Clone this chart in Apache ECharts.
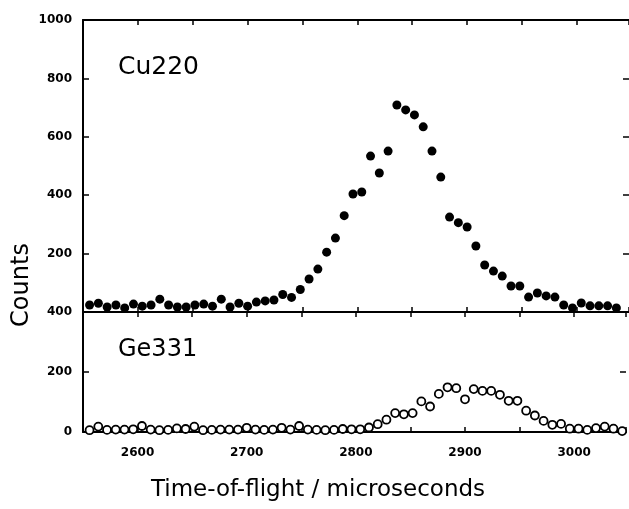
<!DOCTYPE html>
<html>
<head>
<meta charset="utf-8">
<script src="https://cdn.jsdelivr.net/npm/echarts@6/dist/echarts.min.js"></script>
<style>
  html, body { margin: 0; padding: 0; background: #fff; overflow: hidden; }
  #chart { width: 629px; height: 509px; }
</style>
</head>
<body>
<div id="chart"></div>
<script>
// Time-of-flight channel positions (microseconds)
var times = [2556, 2564, 2572, 2580, 2588, 2596, 2604, 2612, 2620, 2628,
             2636, 2644, 2652, 2660, 2668, 2676, 2684, 2692, 2700, 2708,
             2716, 2724, 2732, 2740, 2748, 2756, 2764, 2772, 2780, 2788,
             2796, 2804, 2812, 2820, 2828, 2836, 2844, 2852, 2860, 2868,
             2876, 2884, 2892, 2900, 2908, 2916, 2924, 2932, 2940, 2948,
             2956, 2964, 2972, 2980, 2988, 2996, 3004, 3012, 3020, 3028,
             3036, 3044];
// Cu220 counts (filled circles, upper panel)
var cu220 = [24, 30, 17, 24, 14, 27, 20, 24, 44, 24,
             17, 17, 24, 27, 20, 44, 17, 30, 20, 34,
             38, 41, 60, 50, 77, 113, 147, 205, 253, 330,
             404, 411, 534, 476, 551, 709, 692, 675, 634, 551,
             462, 325, 306, 291, 226, 161, 140, 123, 89, 89,
             51, 65, 55, 51, 24, 14, 31, 21, 21, 21,
             14];
// Ge331 counts (open circles, lower panel)
var ge331 = [6, 18, 7, 8, 8, 9, 20, 8, 6, 7,
             12, 10, 18, 6, 7, 8, 8, 8, 14, 8,
             7, 8, 14, 8, 20, 8, 7, 6, 7, 10,
             9, 9, 15, 26, 41, 63, 59, 63, 102, 85,
             127, 149, 146, 109, 143, 137, 137, 124, 104, 104,
             71, 55, 37, 24, 27, 11, 11, 7, 13, 18,
             11, 3];
var xTickLabels = [2600, 2700, 2800, 2900, 3000];
var topYLabels = [200, 400, 600, 800, 1000];
var bottomYLabels = [0, 200, 400];

function pairs(xs, ys) {
  var out = [];
  for (var i = 0; i < ys.length; i++) out.push([xs[i], ys[i]]);
  return out;
}

var FONT = '"DejaVu Sans", sans-serif';
var lineStyle = { color: '#000', width: 2 };
var labelStyle = { color: '#000', fontFamily: FONT, fontWeight: 'bold', fontSize: 12 };

function xAx(grid, pos, showLabels) {
  return {
    type: 'value', gridIndex: grid, position: pos,
    min: 2550, max: 3047.5, interval: 50,
    axisLine: { show: true, onZero: false, lineStyle: lineStyle },
    axisTick: { show: true, inside: true, length: 5, lineStyle: { color: '#000', width: 1.5 } },
    axisLabel: showLabels ? Object.assign({
      margin: 15,
      formatter: function (v) { return xTickLabels.indexOf(v) >= 0 ? String(v) : ''; }
    }, labelStyle) : { show: false },
    splitLine: { show: false }
  };
}
function yAx(grid, pos, max, labels) {
  return {
    type: 'value', gridIndex: grid, position: pos,
    min: 0, max: max, interval: 200,
    axisLine: { show: pos === 'left', onZero: false, lineStyle: lineStyle },
    axisTick: { show: true, inside: true, length: 6, lineStyle: { color: '#000', width: 1.5 } },
    axisLabel: labels ? Object.assign({
      margin: 11,
      formatter: function (v) { return labels.indexOf(v) >= 0 ? String(v) : ''; }
    }, labelStyle) : { show: false },
    splitLine: { show: false }
  };
}

var chart = echarts.init(document.getElementById('chart'), null, { renderer: 'canvas', width: 629, height: 509 });
chart.setOption({
  backgroundColor: '#fff',
  animation: false,
  grid: [
    { left: 83, top: 20, width: 546, height: 292 },
    { left: 83, top: 312, width: 546, height: 120 }
  ],
  xAxis: [
    xAx(0, 'bottom', false),
    xAx(0, 'top', false),
    xAx(1, 'top', false),
    xAx(1, 'bottom', true)
  ],
  yAxis: [
    yAx(0, 'left', 1000, topYLabels),
    yAx(0, 'right', 1000, null),
    yAx(1, 'left', 400, bottomYLabels),
    yAx(1, 'right', 400, null)
  ],
  series: [
    {
      name: 'Cu220', type: 'scatter', xAxisIndex: 0, yAxisIndex: 0,
      data: pairs(times, cu220),
      symbol: 'circle', symbolSize: 9,
      itemStyle: { color: '#000', opacity: 1 }
    },
    {
      name: 'Ge331', type: 'scatter', xAxisIndex: 3, yAxisIndex: 2,
      data: pairs(times, ge331),
      symbol: 'circle', symbolSize: 8,
      itemStyle: { color: '#fff', borderColor: '#000', borderWidth: 1.8, opacity: 1 }
    }
  ],
  graphic: [
    { type: 'text', x: 118, y: 80, style: { text: 'Cu220', font: 'normal 25px ' + FONT, fill: '#000', textAlign: 'left', textVerticalAlign: 'bottom' } },
    { type: 'text', x: 118, y: 362, style: { text: 'Ge331', font: 'normal 24px ' + FONT, fill: '#000', textAlign: 'left', textVerticalAlign: 'bottom' } },
    { type: 'text', x: 22, y: 285, rotation: Math.PI / 2, style: { text: 'Counts', font: 'normal 24px ' + FONT, fill: '#000', textAlign: 'center', textVerticalAlign: 'middle' } },
    { type: 'text', x: 318, y: 490, style: { text: 'Time-of-flight / microseconds', font: 'normal 23px ' + FONT, fill: '#000', textAlign: 'center', textVerticalAlign: 'middle' } }
  ]
});
</script>
</body>
</html>
